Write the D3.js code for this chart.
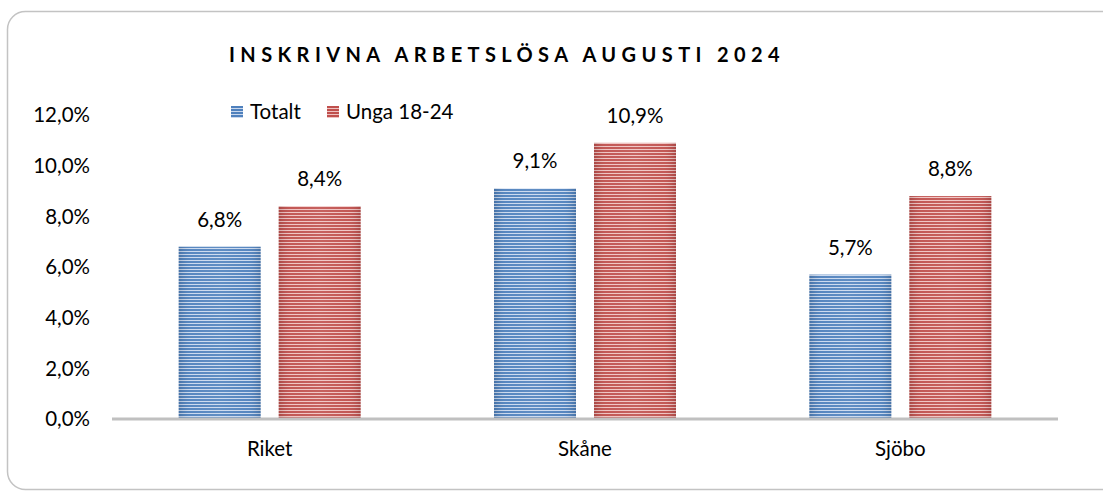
<!DOCTYPE html>
<html>
<head>
<meta charset="utf-8">
<script src="https://cdn.jsdelivr.net/npm/d3@7"></script>
<style>
  body { margin: 0; background: #fff; }
  svg { display: block; font-family: Lato, "Open Sans", sans-serif; }
</style>
</head>
<body>
<div id="chart"></div>
<script>
const categories = ['Riket', 'Skåne', 'Sjöbo'];
const seriesNames = ['Totalt', 'Unga 18-24'];
const totalt = [6.8, 9.1, 5.7];
const unga = [8.4, 10.9, 8.8];
const yTicks = [0, 2, 4, 6, 8, 10, 12];

const W = 1103, H = 492;
const svg = d3.select('#chart').append('svg').attr('width', W).attr('height', H);

// kantram
svg.append('rect')
  .attr('x', 7.5).attr('y', 11.5)
  .attr('width', 1120).attr('height', 478)
  .attr('rx', 18)
  .attr('fill', 'none')
  .attr('stroke', '#c3c3c3')
  .attr('stroke-width', 1.5);

const defs = svg.append('defs');
const pal = [
  {id: 'blue', dark: '#4f81bd', light: '#c9d8ee'},
  {id: 'red', dark: '#c0504d', light: '#efc2c1'}
];
pal.forEach(p => {
  const pat = defs.append('pattern')
    .attr('id', 'pat-' + p.id)
    .attr('patternUnits', 'userSpaceOnUse')
    .attr('width', 6).attr('height', 3);
  pat.append('rect').attr('width', 6).attr('height', 3).attr('fill', p.light);
  pat.append('rect').attr('width', 6).attr('height', 2).attr('fill', p.dark);
});
const edge = defs.append('linearGradient').attr('id', 'edge');
edge.append('stop').attr('offset', '0%').attr('stop-color', '#000').attr('stop-opacity', 0.12);
edge.append('stop').attr('offset', '15%').attr('stop-color', '#fff').attr('stop-opacity', 0.05);
edge.append('stop').attr('offset', '50%').attr('stop-color', '#fff').attr('stop-opacity', 0.1);
edge.append('stop').attr('offset', '85%').attr('stop-color', '#fff').attr('stop-opacity', 0.05);
edge.append('stop').attr('offset', '100%').attr('stop-color', '#000').attr('stop-opacity', 0.12);

const x0 = d3.scaleBand().domain(categories).range([112, 1058]);
const y = d3.scaleLinear().domain([0, 12]).range([419, 115]);

const fmt = v => d3.format('.1f')(v).replace('.', ',') + '%';
const fs = 20.5;

// y-axel etiketter
svg.append('g').selectAll('text')
  .data(yTicks)
  .join('text')
  .attr('x', 90)
  .attr('y', d => y(d))
  .attr('dy', '0.35em')
  .attr('text-anchor', 'end')
  .attr('font-size', fs)
  .attr('fill', '#000')
  .text(fmt);

const rows = categories.map((c, i) => ({cat: c, vals: [totalt[i], unga[i]]}));
const bw = 82;
const groups = svg.append('g').selectAll('g')
  .data(rows)
  .join('g')
  .attr('transform', d => `translate(${x0(d.cat) + x0.bandwidth() / 2},0)`);

const barData = d => d.vals.map((v, j) => ({s: seriesNames[j], v: v, j: j}));
groups.selectAll('rect.bar')
  .data(barData)
  .join('rect')
  .attr('class', 'bar')
  .attr('x', d => (d.j === 0 ? -9 - bw : 9))
  .attr('y', d => y(d.v))
  .attr('width', bw)
  .attr('height', d => y(0) - y(d.v))
  .attr('fill', d => `url(#pat-${pal[d.j].id})`);
groups.selectAll('rect.shade')
  .data(barData)
  .join('rect')
  .attr('class', 'shade')
  .attr('x', d => (d.j === 0 ? -9 - bw : 9))
  .attr('y', d => y(d.v))
  .attr('width', bw)
  .attr('height', d => y(0) - y(d.v))
  .attr('fill', 'url(#edge)');
groups.selectAll('text.lbl')
  .data(barData)
  .join('text')
  .attr('class', 'lbl')
  .attr('x', d => (d.j === 0 ? -9 - bw / 2 : 9 + bw / 2))
  .attr('y', d => y(d.v) - 20)
  .attr('text-anchor', 'middle')
  .attr('font-size', fs)
  .text(d => fmt(d.v));

// baslinje
svg.append('line')
  .attr('x1', 112).attr('x2', 1058)
  .attr('y1', y(0)).attr('y2', y(0))
  .attr('stroke', '#c0c0c0').attr('stroke-width', 3);

svg.append('g').selectAll('text')
  .data(categories)
  .join('text')
  .attr('x', d => x0(d) + x0.bandwidth() / 2)
  .attr('y', 449)
  .attr('dy', '0.35em')
  .attr('text-anchor', 'middle')
  .attr('font-size', fs)
  .text(d => d);

// titel
svg.append('text')
  .attr('x', 229).attr('y', 55)
  .attr('dy', '0.35em')
  .attr('font-size', 20)
  .attr('font-weight', 'bold')
  .attr('letter-spacing', 5.4)
  .text('INSKRIVNA ARBETSLÖSA AUGUSTI 2024');

// förklaring
const legX = [231, 327];
const leg = svg.append('g').selectAll('g')
  .data(seriesNames)
  .join('g')
  .attr('transform', (d, i) => `translate(${legX[i]},106)`);
leg.append('rect').attr('width', 12).attr('height', 12)
  .attr('fill', (d, i) => `url(#pat-${pal[i].id})`);
leg.append('text').attr('x', 19).attr('y', 6).attr('dy', '0.35em')
  .attr('font-size', fs).text(d => d);
</script>
</body>
</html>
